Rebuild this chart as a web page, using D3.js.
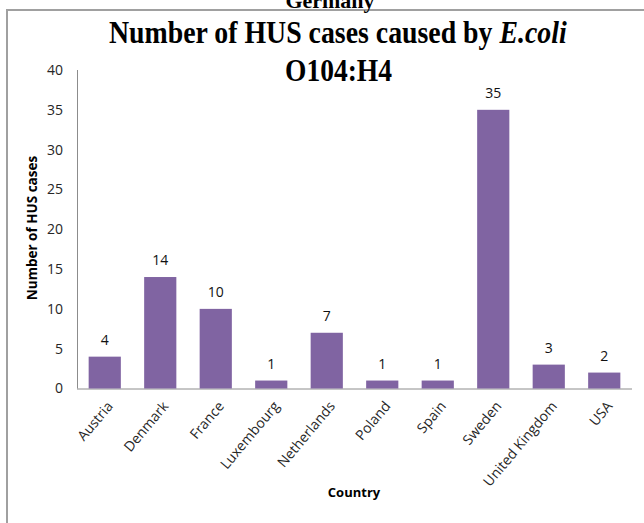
<!DOCTYPE html>
<html>
<head>
<meta charset="utf-8">
<script src="https://cdn.jsdelivr.net/npm/d3@7"></script>
<style>
  body { margin: 0; background: #fff; }
  svg { display: block; }
  .axis path.domain { stroke: #8c8c8c; }
  .axis line { display: none; }
  .tick text { fill: #262626; }
</style>
</head>
<body>
<svg id="chart" width="644" height="523"></svg>
<script>
const countries = ['Austria', 'Denmark', 'France', 'Luxembourg', 'Netherlands', 'Poland', 'Spain', 'Sweden', 'United Kingdom', 'USA'];
const cases = [4, 14, 10, 1, 7, 1, 1, 35, 3, 2];
const yTicks = [0, 5, 10, 15, 20, 25, 30, 35, 40];

const svg = d3.select('#chart');
const margin = { top: 70, left: 77, right: 12, bottom: 135 };
const width = 644 - margin.left - margin.right;
const height = 523 - margin.top - margin.bottom;

// outer frame (cut off at right/bottom like the source)
svg.append('rect')
  .attr('x', 7).attr('y', 10)
  .attr('width', 700).attr('height', 600)
  .attr('fill', 'none')
  .attr('stroke', '#a0a0a0')
  .attr('stroke-width', 2);

// leftover caption above the frame
svg.append('text')
  .attr('x', 330).attr('y', 8)
  .attr('text-anchor', 'middle')
  .attr('font-family', 'Liberation Serif')
  .attr('font-weight', 'bold')
  .attr('font-size', 22)
  .text('Germany');

// title
const t1 = svg.append('text')
  .attr('font-family', 'Liberation Serif')
  .attr('font-weight', 'bold')
  .attr('font-size', 31);
t1.append('tspan').text('Number of HUS cases caused by ');
t1.append('tspan').attr('font-style', 'italic').text('E.coli');

const t2 = svg.append('text')
  .attr('font-family', 'Liberation Serif')
  .attr('font-weight', 'bold')
  .attr('font-size', 32)
  .text('O104:H4');

function fitText(sel, x0, x1, baseline) {
  const w = sel.node().getComputedTextLength();
  const s = (x1 - x0) / w;
  sel.attr('transform', 'translate(' + x0 + ',' + baseline + ') scale(' + s + ',1)');
}
fitText(t1, 109, 567, 43);
fitText(t2, 285, 392, 81);

const g = svg.append('g')
  .attr('transform', 'translate(' + margin.left + ',' + margin.top + ')');

const x = d3.scaleBand()
  .domain(countries)
  .range([0, width])
  .paddingInner(0.42)
  .paddingOuter(0.21);

const y = d3.scaleLinear()
  .domain([0, 40])
  .range([height + 0.5, 0]);

g.append('g')
  .attr('class', 'axis y')
  .call(d3.axisLeft(y).tickValues(yTicks).tickSize(0).tickPadding(14))
  .call(a => a.select('.domain').attr('d', 'M0.5,' + y(40) + 'V' + y(0)))
  .selectAll('text')
  .attr('font-family', 'Open Sans')
  .attr('font-size', 14)
  .attr('fill', '#333');

g.append('g')
  .attr('class', 'axis x')
  .attr('transform', 'translate(0,' + y(0) + ')')
  .call(d3.axisBottom(x).tickSize(0).tickPadding(0))
  .call(a => a.select('.domain').attr('d', 'M0,0.5H' + width))
  .selectAll('text')
  .attr('font-family', 'Open Sans')
  .attr('font-size', 14)
  .attr('text-anchor', 'end')
  .attr('y', 0)
  .attr('dy', 0)
  .attr('transform', 'translate(9,18) rotate(-50)');

// bars
g.selectAll('rect.bar')
  .data(cases)
  .enter().append('rect')
  .attr('class', 'bar')
  .attr('x', (d, i) => x(countries[i]))
  .attr('y', d => y(d))
  .attr('width', x.bandwidth())
  .attr('height', d => y(0) - y(d))
  .attr('fill', '#8064a2');

// value labels
g.selectAll('text.value')
  .data(cases)
  .enter().append('text')
  .attr('class', 'value')
  .attr('x', (d, i) => x(countries[i]) + x.bandwidth() / 2)
  .attr('y', d => y(d) - 12)
  .attr('text-anchor', 'middle')
  .attr('font-family', 'Open Sans')
  .attr('font-size', 14)
  .attr('fill', '#111')
  .text(d => d);

// axis titles
svg.append('text')
  .attr('transform', 'translate(37,228) rotate(-90)')
  .attr('text-anchor', 'middle')
  .attr('font-family', 'Open Sans')
  .attr('font-weight', 'bold')
  .attr('font-size', 13.5)
  .text('Number of HUS cases');

svg.append('text')
  .attr('x', 354).attr('y', 497)
  .attr('text-anchor', 'middle')
  .attr('font-family', 'Open Sans')
  .attr('font-weight', 'bold')
  .attr('font-size', 13)
  .text('Country');
</script>
</body>
</html>
